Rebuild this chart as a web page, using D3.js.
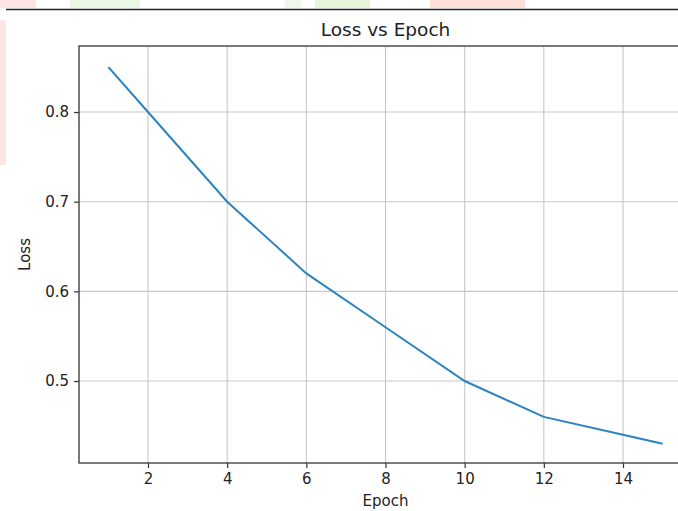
<!DOCTYPE html>
<html>
<head>
<meta charset="utf-8">
<script src="https://cdn.jsdelivr.net/npm/d3@7"></script>
<style>
  body { margin: 0; background: #fff; }
  svg { display: block; font-family: "DejaVu Sans", sans-serif; }
</style>
</head>
<body>
<svg id="chart" width="678" height="511"></svg>
<script>
var epochs = [1, 2, 4, 6, 8, 10, 12, 14, 15]
var losses = [0.85, 0.80, 0.70, 0.62, 0.56, 0.50, 0.46, 0.44, 0.43]
var x_ticks = [2, 4, 6, 8, 10, 12, 14]
var y_ticks = [0.5, 0.6, 0.7, 0.8]

function draw_chart () {
	var svg = d3.select("#chart")
	var left = 79, right = 692, top = 46, bottom = 463

	// faint page watermark above the figure
	var marks = [
		[0, 0, 36, 8, "#fde3e3"], [70, 0, 70, 8, "#eaf7e2"], [285, 0, 16, 8, "#eef8e8"],
		[315, 0, 55, 8, "#e6f5dc"], [430, 0, 95, 8, "#fde0d8"], [0, 20, 6, 145, "#fde6e6"]
	]
	svg.selectAll(".wm").data(marks).enter().append("rect")
	   .attr("x", d=>d[0]).attr("y", d=>d[1]).attr("width", d=>d[2]).attr("height", d=>d[3])
	   .style("fill", d=>d[4])
	svg.append("line").attr("x1", 6).attr("x2", 678).attr("y1", 9.5).attr("y2", 9.5)
	   .style("stroke", "#222").style("stroke-width", 1.5)

	var x_scale = d3.scaleLinear().domain([0.257, 15.743]).range([left, right]),
	    y_scale = d3.scaleLinear().domain([0.4086, 0.8736]).range([bottom, top])

	// grid
	svg.selectAll(".gx").data(x_ticks).enter().append("line")
	   .attr("x1", d=>x_scale(d)).attr("x2", d=>x_scale(d)).attr("y1", top).attr("y2", bottom)
	   .style("stroke", "#c8c8c8").style("stroke-width", 1.1)
	svg.selectAll(".gy").data(y_ticks).enter().append("line")
	   .attr("x1", left).attr("x2", right).attr("y1", d=>y_scale(d)).attr("y2", d=>y_scale(d))
	   .style("stroke", "#c8c8c8").style("stroke-width", 1.1)

	var line = d3.line().x((d, i)=>x_scale(epochs[i])).y(d=>y_scale(d))
	svg.append("path").datum(losses).attr("d", line)
	   .style("fill", "none").style("stroke", "#2b83c1").style("stroke-width", 2)

	// axes
	var x_axis = svg.append("g").attr("transform", "translate(0," + bottom + ")")
	   .call(d3.axisBottom(x_scale).tickValues(x_ticks).tickSize(5).tickPadding(5))
	var y_axis = svg.append("g").attr("transform", "translate(" + left + ",0)")
	   .call(d3.axisLeft(y_scale).tickValues(y_ticks).tickFormat(d3.format(".1f")).tickSize(5).tickPadding(5))
	;[x_axis, y_axis].forEach(a=>{
		a.select(".domain").remove()
		a.selectAll("line").style("stroke", "#333").style("stroke-width", 1.2)
		a.selectAll("text").style("font-family", "DejaVu Sans").style("font-size", "15px").style("fill", "#222")
	})

	// spines (right one falls outside the crop)
	svg.append("rect").attr("x", left).attr("y", top).attr("width", right - left).attr("height", bottom - top)
	   .style("fill", "none").style("stroke", "#333").style("stroke-width", 1.3)

	svg.append("text").attr("x", (left + right) / 2).attr("y", 36).attr("text-anchor", "middle")
	   .style("font-size", "18.5px").style("fill", "#222").text("Loss vs Epoch")
	svg.append("text").attr("x", (left + right) / 2).attr("y", 506).attr("text-anchor", "middle")
	   .style("font-size", "15px").style("fill", "#222").text("Epoch")
	svg.append("text").attr("transform", "translate(30," + (top + bottom) / 2 + ") rotate(-90)")
	   .attr("text-anchor", "middle").style("font-size", "15px").style("fill", "#222").text("Loss")
}

draw_chart()
</script>
</body>
</html>
